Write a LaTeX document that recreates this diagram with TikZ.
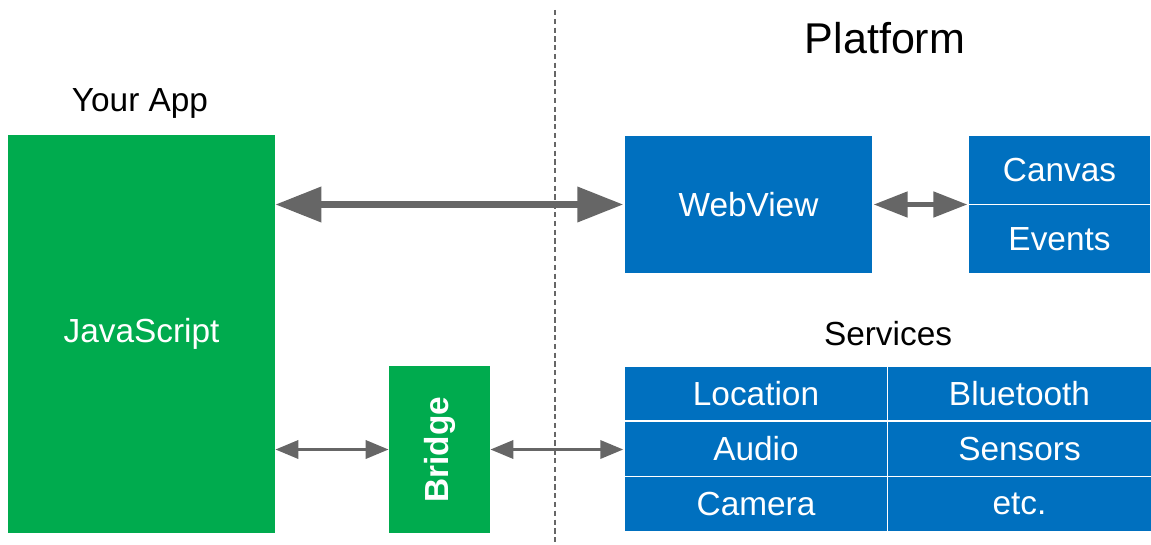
\documentclass[tikz,border=0pt]{standalone}
\usepackage{fontspec}
\setmainfont{Liberation Sans}
\usetikzlibrary{positioning,arrows.meta,calc}
\definecolor{appgreen}{HTML}{00AB4E}
\definecolor{platblue}{HTML}{0070BF}
\definecolor{arrowgray}{HTML}{666666}

\begin{document}
\begin{tikzpicture}[x=0.02cm,y=-0.02cm,
  lbl/.style={font=\fontsize{19}{22}\selectfont},
  appbox/.style={fill=appgreen,text=white,inner sep=0pt,lbl},
  platbox/.style={fill=platblue,draw=white,line width=0.8pt,text=white,inner sep=0pt,lbl},
  cellbox/.style={platbox,minimum width=5.28cm,minimum height=1.1cm},
  bigarrow/.style={{Triangle[length=9.2mm,width=6.8mm]}-{Triangle[length=9.2mm,width=6.8mm]},draw=arrowgray,line width=4pt},
  midarrow/.style={{Triangle[length=6.8mm,width=5mm]}-{Triangle[length=6.8mm,width=5mm]},draw=arrowgray,line width=2.8pt},
  smallarrow/.style={{Triangle[length=4.6mm,width=3.6mm]}-{Triangle[length=4.6mm,width=3.6mm]},draw=arrowgray,line width=2pt}]
\useasboundingbox (0,0) rectangle (1151,544);

% divider between app and platform
\coordinate (divtop) at (555,10);
\coordinate (divbot) at (555,544);
\draw[arrowgray,line width=0.6pt,dash pattern=on 3pt off 2pt] (divtop) -- (divbot);

% headings
\node[lbl] (yourapp) at (140,103) {Your App};
\node[font=\fontsize{24.5}{28}\selectfont] (platform) at (885,38) {Platform};
\node[lbl] (services) at (888,334) {Services};

% app side
\node[appbox,minimum width=5.34cm,minimum height=7.96cm] (js) at (141.5,334) {JavaScript};
\node[appbox,minimum width=2.02cm,minimum height=3.34cm] (bridge) at (439.5,449.5) {\rotatebox{90}{\bfseries Bridge}};

% platform side
\node[platbox,minimum width=4.98cm,minimum height=2.78cm] (webview) at (748.5,204.5) {WebView};
\node[platbox,minimum width=3.66cm,minimum height=1.39cm] (canvas) at (1059.5,170) {Canvas};
\node[platbox,minimum width=3.66cm,minimum height=1.39cm] (events) at (1059.5,239) {Events};

\node[cellbox] (loc) at (756,393.5) {Location};
\node[cellbox] (bt) at (1019.5,393.5) {Bluetooth};
\node[cellbox] (aud) at (756,449) {Audio};
\node[cellbox] (sens) at (1019.5,449) {Sensors};
\node[cellbox] (cam) at (756,504) {Camera};
\node[cellbox] (etc) at (1019.5,504) {etc.};

% connectors
\draw[bigarrow] (js.east |- webview.west) -- (webview.west);
\draw[midarrow] (webview.east) -- (webview.east -| canvas.west);
\draw[smallarrow] (js.east |- bridge.west) -- (bridge.west);
\draw[smallarrow] (bridge.east) -- (bridge.east -| aud.west);
\end{tikzpicture}
\end{document}
